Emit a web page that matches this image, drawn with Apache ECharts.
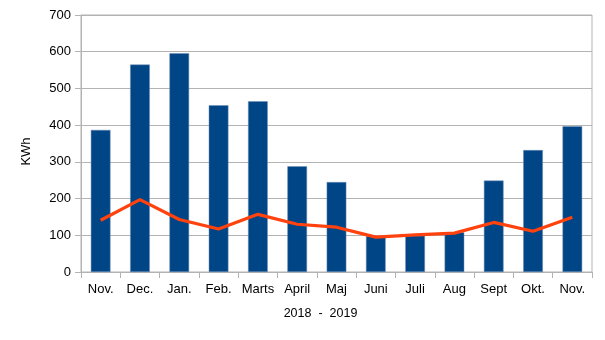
<!DOCTYPE html>
<html><head><meta charset="utf-8">
<script src="https://cdn.jsdelivr.net/npm/echarts@6/dist/echarts.min.js"></script>
<style>html,body{margin:0;padding:0;background:#fff}#c{width:605px;height:340px}</style>
</head><body><div id="c"></div>
<script>
var categories = ["Nov.","Dec.","Jan.","Feb.","Marts","April","Maj","Juni","Juli","Aug","Sept","Okt.","Nov."];
var barValues = [387, 565, 596, 454, 465, 288, 245, 98, 99, 108, 249, 332, 397];
var lineValues = [141, 197, 143, 117, 157, 130, 122, 95, 101, 106, 135, 111, 149];
var yTicks = [0, 100, 200, 300, 400, 500, 600, 700];

var chart = echarts.init(document.getElementById('c'));
var font = "Liberation Sans";
chart.setOption({
  animation: false,
  grid: {left: 81, right: 13, top: 15, bottom: 68, show: true, borderColor: '#b3b3b3', borderWidth: 1},
  xAxis: {
    type: 'category', data: categories,
    name: '2018  -  2019', nameLocation: 'middle', nameGap: 35,
    nameTextStyle: {fontFamily: font, fontSize: 12.5, color: '#000', padding: [0, 32, 0, 0]},
    axisLine: {lineStyle: {color: '#b3b3b3'}},
    axisTick: {show: true, length: 6, lineStyle: {color: '#b3b3b3'}},
    axisLabel: {fontFamily: font, fontSize: 13, color: '#000', margin: 11, interval: 0}
  },
  yAxis: {
    type: 'value', min: yTicks[0], max: yTicks[yTicks.length-1], interval: 100,
    name: 'KWh', nameLocation: 'middle', nameGap: 48, nameRotate: 90,
    nameTextStyle: {fontFamily: font, fontSize: 13, color: '#000', padding: [0, 16, 0, 0]},
    axisLine: {show: true, lineStyle: {color: '#b3b3b3'}},
    axisTick: {show: true, length: 6, lineStyle: {color: '#b3b3b3'}},
    axisLabel: {fontFamily: font, fontSize: 13, color: '#000', margin: 10},
    splitLine: {lineStyle: {color: '#b3b3b3'}}
  },
  series: [
    {type: 'bar', data: barValues, barWidth: '50%',
     itemStyle: {color: '#004586', borderColor: '#6f8fb5', borderWidth: 0.5}},
    {type: 'line', data: lineValues, symbol: 'none',
     lineStyle: {color: '#ff420e', width: 3.2}, itemStyle: {color: '#ff420e'}}
  ]
});
</script></body></html>
